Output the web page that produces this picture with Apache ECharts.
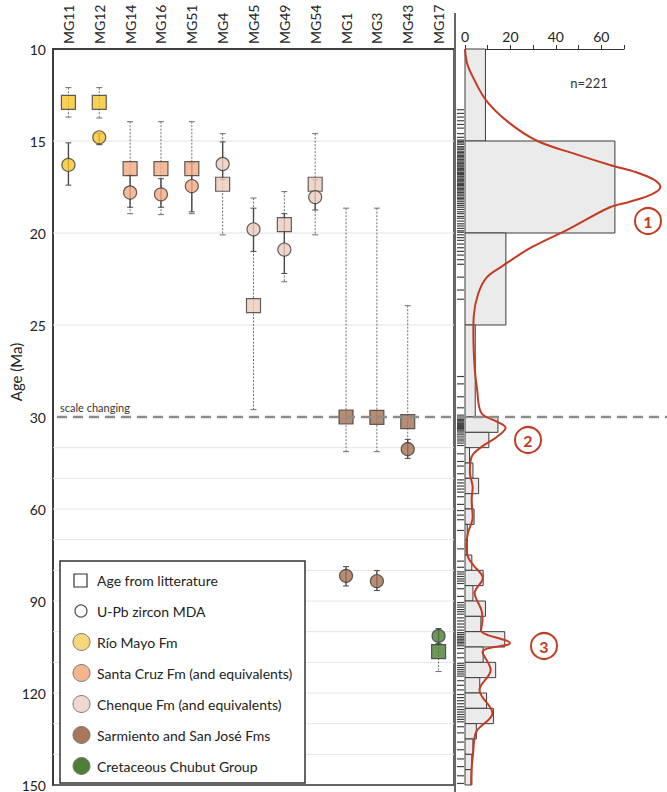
<!DOCTYPE html>
<html><head><meta charset="utf-8">
<script src="https://cdn.jsdelivr.net/npm/echarts@6.0.0/dist/echarts.min.js"></script>
<style>html,body{margin:0;padding:0;background:#fff}#c{width:667px;height:792px}</style>
</head><body><div id="c"></div>
<script>
// ---------- data ----------
const categories = ['MG11','MG12','MG14','MG16','MG51','MG4','MG45','MG49','MG54','MG1','MG3','MG43','MG17'];
const formation  = ['rio','rio','sc','sc','sc','ch','ch','ch','ch','sa','sa','sa','cc'];
// Age from litterature (squares) with range
const litAge = [12.9, 12.9, 16.5, 16.5, 16.5, 17.35, 23.95, 19.55, 17.35, 30.0, 30.1, 31.5, 106.5];
const litLo  = [12.1, 12.1, 13.95, 13.95, 13.95, 14.6, 18.1, 17.75, 14.6, 18.65, 18.65, 23.95, 104];
const litHi  = [13.7, 13.75, 18.95, 19.0, 18.95, 20.1, 29.6, 22.65, 20.1, 41.3, 41.3, 38.5, 113];
// U-Pb zircon MDA (circles) with error
const mdaAge = [16.3, 14.8, 17.8, 17.9, 17.45, 16.25, 19.8, 20.9, 18.05, 81.8, 83.5, 40.5, 101.4];
const mdaLo  = [15.1, 14.6, 16.85, 17.05, 16.2, 15.05, 18.65, 18.95, 17.1, 78.8, 80.1, 37.3, 99];
const mdaHi  = [17.4, 15.2, 18.6, 18.6, 18.85, 17.1, 21.0, 22.2, 18.75, 85.1, 86.6, 43.5, 104];
// y-axis tick labels (piecewise scale)
const yTicks = [10, 15, 20, 25, 30, 60, 90, 120, 150];
const gridAges = [15, 20, 25, 40, 50, 60, 70, 80, 90, 100, 110, 120, 130, 140];
// histogram (n=221)
const histLo    = [10, 15, 20, 25, 30, 35, 40, 45, 50, 55, 60, 65, 70, 75, 80, 85, 90, 95, 100, 105, 110, 115, 120, 125, 130, 135, 140, 145];
const histHi    = [15, 20, 25, 30, 35, 40, 45, 50, 55, 60, 65, 70, 75, 80, 85, 90, 95, 100, 105, 110, 115, 120, 125, 130, 135, 140, 145, 150];
const histCount = [9, 66, 18, 4.5, 14.5, 10.5, 2, 3.5, 6, 3, 4, 1, 1, 3, 8, 3.5, 9, 7, 17.5, 8, 13.5, 6.5, 9.5, 12.5, 5, 3.5, 3, 3];
// density curve: [scaled value, age]
const kdeVal = [0, 1, 3.5, 9.7, 20, 33, 50, 66, 78, 86, 89, 85, 75, 66, 47, 30, 17, 10, 6, 4, 3.8, 4.4, 5.5, 7.5, 14.5, 18.5, 14.5, 8, 3, 2.2, 3.5, 3, 3.5, 1.3, 0.6, 1.3, 4, 8.1, 4.4, 7.5, 8, 7.3, 20.5, 8, 11.7, 6.6, 12.5, 5.1, 3.7, 2.9, 2.8];
const kdeAge = [10, 10.8, 11.5, 12.8, 14, 15, 15.7, 16.3, 16.7, 17.1, 17.5, 17.9, 18.3, 18.6, 19.8, 20.8, 21.8, 22.4, 23.3, 24.5, 25.5, 27.3, 28.5, 29.8, 31.5, 33.5, 36.5, 39.5, 43, 48, 53, 57, 62.5, 68, 72, 75.6, 78.5, 82.5, 87.4, 93, 96, 99.5, 103.7, 106.6, 112.5, 119, 126.6, 132.7, 139.6, 146, 150];
// individual ages (rug)
const rugAges = [13.3, 13.5, 13.7, 13.9, 14.1, 14.3, 14.6, 14.8, 14.95,
 15.02, 15.1, 15.18, 15.3, 15.38, 15.45, 15.55, 15.62, 15.7, 15.78, 15.85, 15.92, 16.0, 16.08, 16.15, 16.22, 16.3, 16.36, 16.42, 16.5, 16.56, 16.62, 16.7, 16.76, 16.82, 16.9, 16.95, 17.02, 17.1, 17.16, 17.22, 17.3, 17.36, 17.42, 17.5, 17.58, 17.65, 17.72, 17.8, 17.88, 17.95, 18.05, 18.12, 18.2, 18.3, 18.4, 18.5, 18.6, 18.72, 18.85, 18.95, 19.1, 19.2, 19.35, 19.5, 19.62, 19.75, 19.88, 19.96,
 20.1, 20.25, 20.4, 20.6, 20.8, 21.0, 21.2, 21.45, 21.7, 22.4, 23.1, 23.6,
 27.8, 28.2, 28.9, 29.5, 29.9,
 30.3, 30.8, 31.2, 31.6, 32.0, 32.3, 32.6, 32.9, 33.2, 33.5, 33.8, 34.2, 34.6,
 35.2, 35.8, 36.5, 37.2, 37.8, 38.5, 39.3, 42, 44.5, 46, 48.5, 50.5, 51.5, 52.5, 53.5, 54.5, 56, 58.5, 60.5, 62, 63.5, 67, 73, 77, 79,
 80.5, 81.2, 82, 82.8, 83.5, 84.3, 86, 88.5, 90.5, 91.3, 92, 92.8, 93.5, 94.3, 95.5, 96.5, 97.5, 98.5, 99.5,
 100.3, 100.9, 101.5, 102, 102.5, 103, 103.5, 104, 104.6, 105.5, 107, 108.5, 110.3, 111, 111.7, 112.4, 113.1, 113.8, 114.5, 116, 117.5, 119,
 120.5, 121.5, 122.5, 123.5, 124.5, 125.4, 126.2, 127, 127.8, 128.6, 129.4, 131, 133, 136, 138.5, 141.5, 144, 147, 149.5];

// ---------- styling ----------
const FONT = 'Lato';
const fmColor = {rio:'#f4c52a', sc:'#f2aa82', ch:'#ecccba', sa:'#a46f52', cc:'#4d7c33'};
const legendColor = {rio:'#f8d67a', sc:'#f5b68e', ch:'#eed8cf', sa:'#a9765c', cc:'#4f7f36'};
const fmNames = [['rio','Río Mayo Fm'],['sc','Santa Cruz Fm (and equivalents)'],['ch','Chenque Fm (and equivalents)'],['sa','Sarmiento and San José Fms'],['cc','Cretaceous Chubut Group']];

// piecewise age scale: 10-30 Ma (5 Ma / unit), 30-150 Ma (30 Ma / unit)
function disp(a){ return a <= 30 ? (a - 10) / 5 : 4 + (a - 30) / 30; }

const chart = echarts.init(document.getElementById('c'), null, {renderer:'svg'});

const yCommon = {type:'value', inverse:true, min:0, max:8, interval:1};
const PX_PER_UNIT = 159 / 70;

function errRender(color, dash, width){
  return function(params, api){
    const p1 = api.coord([api.value(0), api.value(1)]);
    const p2 = api.coord([api.value(0), api.value(2)]);
    const cap = 3;
    const st = {stroke:color, lineWidth:width, lineDash:dash};
    const cs = {stroke:color, lineWidth:1};
    return {type:'group', children:[
      {type:'line', shape:{x1:p1[0], y1:p1[1], x2:p2[0], y2:p2[1]}, style:st},
      {type:'line', shape:{x1:p1[0]-cap, y1:p1[1], x2:p1[0]+cap, y2:p1[1]}, style:cs},
      {type:'line', shape:{x1:p2[0]-cap, y1:p2[1], x2:p2[0]+cap, y2:p2[1]}, style:cs}
    ]};
  };
}

const option = {
  animation:false,
  backgroundColor:'#fff',
  textStyle:{fontFamily:FONT},
  grid:[
    {left:53, top:49, width:401, height:736, show:true, borderColor:'#333', borderWidth:1.5, backgroundColor:'transparent'},
    {left:465, top:49, width:159, height:736},
    {left:456, top:49, width:9, height:736},
    {left:465, top:49, width:PX_PER_UNIT * 92, height:736}
  ],
  xAxis:[
    {gridIndex:0, type:'category', data:categories, position:'top', boundaryGap:true,
     axisLine:{show:true, lineStyle:{color:'#333', width:1.5}}, axisTick:{show:false},
     axisLabel:{rotate:90, margin:5, fontSize:14, color:'#222', fontFamily:FONT}},
    {gridIndex:1, type:'value', position:'top', min:0, max:70, interval:10,
     axisLine:{show:true, onZero:false, lineStyle:{color:'#333', width:1}},
     axisTick:{show:true, length:4, lineStyle:{color:'#333'}},
     axisLabel:{fontSize:14, color:'#222', margin:6, fontFamily:FONT, formatter:v => (v % 20 === 0 && v < 70) ? String(v) : ''},
     splitLine:{show:false}},
    {gridIndex:2, type:'value', min:0, max:1, show:false},
    {gridIndex:3, type:'value', min:0, max:92, show:false}
  ],
  yAxis:[
    Object.assign({gridIndex:0, axisLine:{show:true, lineStyle:{color:'#333', width:1.5}}, axisTick:{show:false},
      axisLabel:{fontSize:14, color:'#222', margin:7, fontFamily:FONT, formatter:v => String(yTicks[Math.round(v)])},
      splitLine:{show:false}}, yCommon),
    Object.assign({gridIndex:1, show:false, splitLine:{show:false}}, yCommon),
    Object.assign({gridIndex:2, show:false, splitLine:{show:false}}, yCommon),
    Object.assign({gridIndex:3, show:false, splitLine:{show:false}}, yCommon)
  ],
  series:[
    // grid lines
    {type:'custom', xAxisIndex:0, yAxisIndex:0, silent:true, z:1, encode:{x:0, y:1},
     data:gridAges.map(a => [0, disp(a)]),
     renderItem:(params, api) => {
       const y = api.coord([0, api.value(1)])[1];
       const cs = params.coordSys;
       return {type:'line', shape:{x1:cs.x, y1:y, x2:cs.x + cs.width, y2:y}, style:{stroke:'#e4e4e4', lineWidth:1}};
     }},
    // literature age ranges (dotted)
    {type:'custom', xAxisIndex:0, yAxisIndex:0, silent:true, z:2, encode:{x:0, y:[1,2]},
     data:categories.map((c,i) => [i, disp(litLo[i]), disp(litHi[i])]),
     renderItem:errRender('#6e6e6e', [2,1.5], 1)},
    // MDA errors (solid)
    {type:'custom', xAxisIndex:0, yAxisIndex:0, silent:true, z:3, encode:{x:0, y:[1,2]},
     data:categories.map((c,i) => [i, disp(mdaLo[i]), disp(mdaHi[i])]),
     renderItem:errRender('#4a4a4a', null, 1.4)},
    // squares
    {type:'scatter', xAxisIndex:0, yAxisIndex:0, symbol:'rect', symbolSize:14, z:4, silent:true,
     data:categories.map((c,i) => ({value:[i, disp(litAge[i])], itemStyle:{color:fmColor[formation[i]], borderColor:'#3a3a3a', borderWidth:1.2}}))},
    // circles
    {type:'scatter', xAxisIndex:0, yAxisIndex:0, symbol:'circle', symbolSize:13, z:5, silent:true,
     data:categories.map((c,i) => ({value:[i, disp(mdaAge[i])], itemStyle:{color:fmColor[formation[i]], borderColor:'#3a3a3a', borderWidth:1.2}}))},
    // histogram
    {type:'custom', xAxisIndex:1, yAxisIndex:1, silent:true, z:2, encode:{x:2, y:[0,1]},
     data:histLo.map((lo,i) => [disp(lo), disp(histHi[i]), histCount[i]]),
     renderItem:(params, api) => {
       const p0 = api.coord([0, api.value(0)]);
       const p1 = api.coord([api.value(2), api.value(1)]);
       return {type:'rect', shape:{x:p0[0], y:p0[1], width:p1[0]-p0[0], height:p1[1]-p0[1]},
               style:{fill:'#ebebeb', stroke:'#3c3c3c', lineWidth:1}};
     }},
    // density curve (wider grid with the same x scale so the peak can pass the axis end)
    {type:'line', xAxisIndex:3, yAxisIndex:3, silent:true, z:4, showSymbol:false, smooth:0.35,
     lineStyle:{color:'#c23b22', width:2},
     data:kdeVal.map((v,i) => [v, disp(kdeAge[i])])},
    // rug
    {type:'scatter', xAxisIndex:2, yAxisIndex:2, symbol:'rect', symbolSize:[7,1.2], silent:true, z:3,
     itemStyle:{color:'#111'},
     data:rugAges.map(a => [0.5, disp(a)])}
  ]
};
chart.setOption(option);

const y30 = chart.convertToPixel({yAxisIndex:0}, disp(30));
const legendRows = [];
legendRows.push({type:'rect', z:100, shape:{x:74, y:574, width:13, height:13}, style:{fill:'#fff', stroke:'#333', lineWidth:1.2}});
legendRows.push({type:'text', z:100, x:97, y:580, style:{text:'Age from litterature', fontSize:14, fontFamily:FONT, fill:'#222', verticalAlign:'middle'}});
legendRows.push({type:'circle', z:100, shape:{cx:81, cy:611, r:6}, style:{fill:'#fff', stroke:'#555', lineWidth:1.2}});
legendRows.push({type:'text', z:100, x:97, y:611, style:{text:'U-Pb zircon MDA', fontSize:14, fontFamily:FONT, fill:'#222', verticalAlign:'middle'}});
fmNames.forEach((f, k) => {
  const cy = 642 + k * 31;
  legendRows.push({type:'circle', z:100, shape:{cx:81.5, cy:cy, r:8.5}, style:{fill:legendColor[f[0]], stroke:'#777', lineWidth:1}});
  legendRows.push({type:'text', z:100, x:97, y:cy, style:{text:f[1], fontSize:14, fontFamily:FONT, fill:'#222', verticalAlign:'middle'}});
});

function circled(n, cx, cy){
  return [
    {type:'circle', z:100, shape:{cx:cx, cy:cy, r:13}, style:{fill:'#fff', stroke:'#c23b22', lineWidth:2}},
    {type:'text', z:101, x:cx, y:cy, style:{text:String(n), fontSize:16, fontWeight:'bold', fontFamily:FONT, fill:'#c23b22', align:'center', verticalAlign:'middle'}}
  ];
}

chart.setOption({graphic:[
  {type:'line', z:50, shape:{x1:455, y1:13, x2:455, y2:792}, style:{stroke:'#666', lineWidth:2}},
  {type:'line', z:60, shape:{x1:57, y1:y30, x2:667, y2:y30}, style:{stroke:'#8c8c8c', lineWidth:2.5, lineDash:[10,6]}},
  {type:'text', z:60, x:60, y:y30 - 4, style:{text:'scale changing', fontSize:11, fontFamily:FONT, fill:'#333', verticalAlign:'bottom'}},
  {type:'text', z:60, x:589, y:83, style:{text:'n=221', fontSize:13, fontFamily:FONT, fill:'#333', align:'center', verticalAlign:'middle'}},
  {type:'text', z:60, x:16, y:372, rotation:Math.PI/2, style:{text:'Age (Ma)', fontSize:15, fontFamily:FONT, fill:'#222', align:'center', verticalAlign:'middle'}},
  {type:'rect', z:99, shape:{x:60, y:561, width:245, height:222}, style:{fill:'#fff', stroke:'#333', lineWidth:1.5}},
  ...legendRows,
  ...circled(1, 648, 221),
  ...circled(2, 528, 440),
  ...circled(3, 544, 646)
]});
</script>
</body></html>
